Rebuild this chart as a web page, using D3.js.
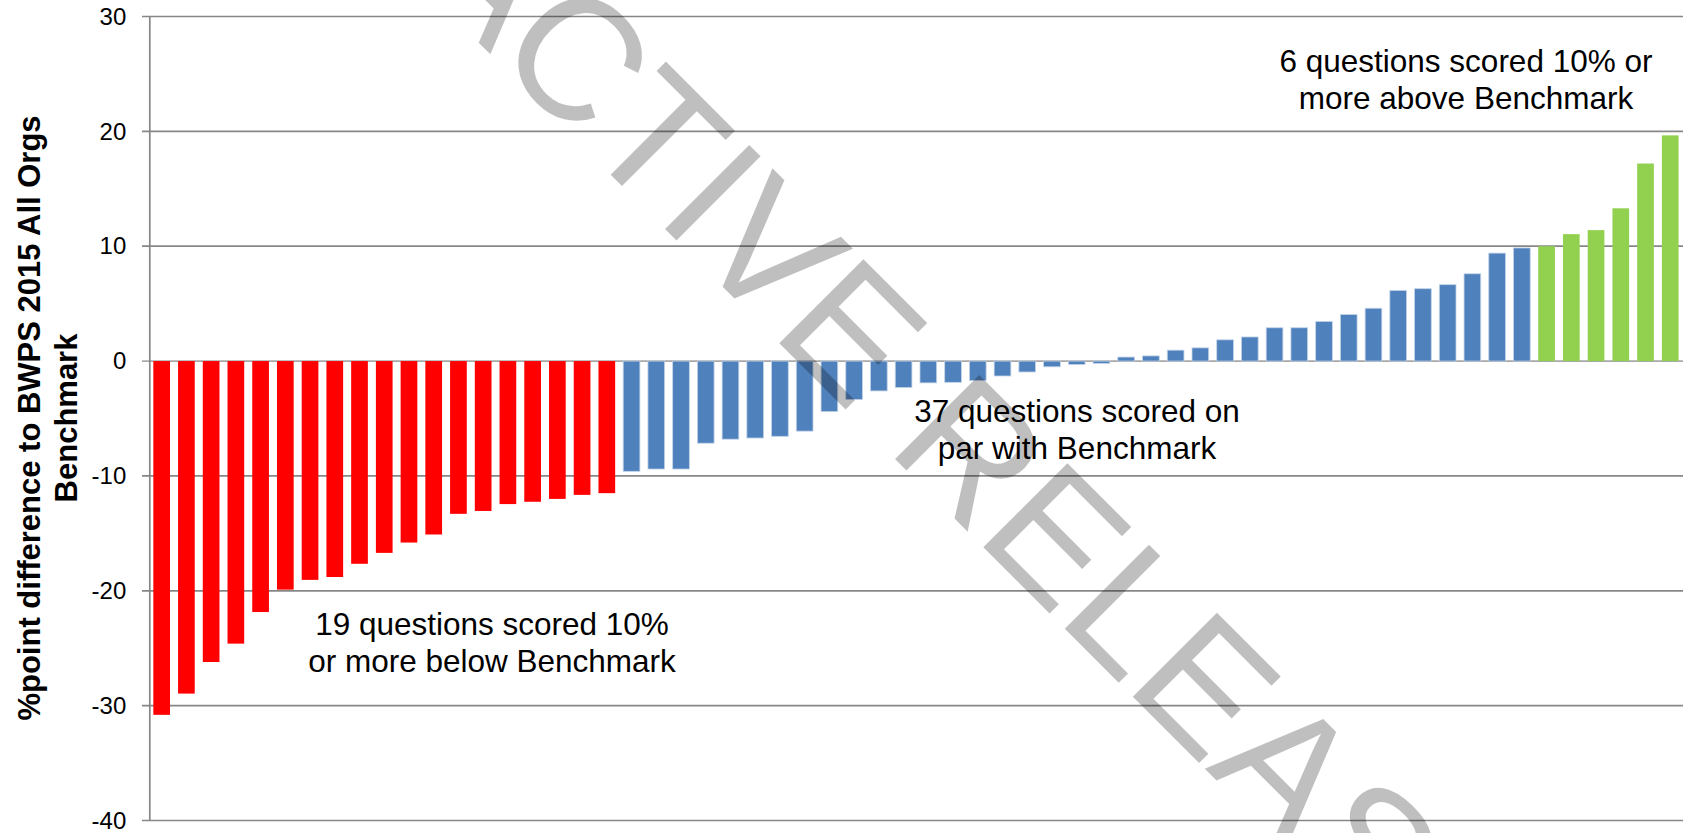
<!DOCTYPE html>
<html>
<head>
<meta charset="utf-8">
<script src="https://cdn.jsdelivr.net/npm/d3@7"></script>
<style>
  html, body { margin: 0; padding: 0; background: #ffffff; }
  svg { display: block; }
</style>
</head>
<body>
<svg id="chart" width="1688" height="833"></svg>
<script>
// ---- data ----
const belowValues = [-30.8, -28.95, -26.2, -24.6, -21.85, -19.9, -19.05, -18.8, -17.65, -16.7,
                     -15.8, -15.1, -13.3, -13.05, -12.45, -12.25, -12.0, -11.65, -11.5];
const onParValues = [-9.6, -9.4, -9.4, -7.15, -6.8, -6.7, -6.55, -6.1, -4.4, -3.35,
                     -2.6, -2.3, -1.9, -1.85, -1.7, -1.3, -0.95, -0.5, -0.3, -0.2,
                     0.35, 0.45, 0.95, 1.15, 1.85, 2.1, 2.9, 2.9, 3.45, 4.05,
                     4.6, 6.15, 6.3, 6.65, 7.6, 9.4, 9.85];
const aboveValues = [10.0, 11.05, 11.4, 13.3, 17.2, 19.65];
const groupNames = ["below", "onPar", "above"];
const groupColors = ["#FF0000", "#4F81BD", "#92D050"];
const yTicks = [-40, -30, -20, -10, 0, 10, 20, 30];
const yTitleLines = ["%point difference to BWPS 2015 All Orgs", "Benchmark"];
const notes = [
  { lines: ["19 questions scored 10%", "or more below Benchmark"], x: 492, y: 635 },
  { lines: ["37 questions scored on", "par with Benchmark"], x: 1077, y: 422 },
  { lines: ["6 questions scored 10% or", "more above Benchmark"], x: 1466, y: 72 }
];
const watermarkText = "PROACTIVE RELEASE";

// ---- build table ----
const data = [];
[belowValues, onParValues, aboveValues].forEach((arr, gi) => {
  arr.forEach(v => data.push({ i: data.length, v: v, g: groupNames[gi] }));
});
const color = d3.scaleOrdinal().domain(groupNames).range(groupColors);

const svg = d3.select("#chart");
const FONT = "'Liberation Sans', Arial, Helvetica, sans-serif";

const x = d3.scaleBand()
  .domain(data.map(d => d.i))
  .range([149.3, 1682.6])
  .paddingInner(0.325)
  .paddingOuter(0.1625);

const y = d3.scaleLinear().domain([-40, 30]).range([820.5, 16.5]);

// gridlines
svg.append("g").selectAll("line")
  .data(yTicks)
  .join("line")
  .attr("x1", 142)
  .attr("x2", 1683)
  .attr("y1", d => y(d))
  .attr("y2", d => y(d))
  .attr("stroke", d => d === 0 ? "#a8a8a8" : "#878787")
  .attr("stroke-width", 1.7);

// y axis
const yAxis = d3.axisLeft(y).tickValues(yTicks).tickFormat(d => String(d)).tickSize(0).tickPadding(23);
const ga = svg.append("g").attr("transform", "translate(149.3,0)").call(yAxis);
ga.select(".domain").attr("stroke", "#878787").attr("stroke-width", 1.7);
ga.selectAll("text")
  .attr("font-family", FONT)
  .attr("font-size", 24)
  .attr("fill", "#000");

// bars
svg.append("g").selectAll("rect")
  .data(data)
  .join("rect")
  .attr("x", d => x(d.i))
  .attr("width", x.bandwidth())
  .attr("y", d => y(Math.max(0, d.v)))
  .attr("height", d => Math.abs(y(d.v) - y(0)))
  .attr("fill", d => color(d.g))
  .attr("stroke", d => d.g === "onPar" ? "#c3d3e8" : "none")
  .attr("stroke-width", 0.8);

// y axis title
const yt = svg.append("text")
  .attr("transform", "translate(40,418) rotate(-90)")
  .attr("text-anchor", "middle")
  .attr("font-family", FONT)
  .attr("font-weight", "bold")
  .attr("font-size", 31)
  .attr("fill", "#000");
yTitleLines.forEach((t, k) => {
  yt.append("tspan").attr("x", 0).attr("y", k * 36.5).text(t);
});

// watermark
svg.append("text")
  .attr("transform", "translate(144,-292) rotate(45)")
  .attr("font-family", FONT)
  .attr("font-size", 173)
  .attr("fill", "#000")
  .attr("fill-opacity", 0.25)
  .text(watermarkText);

// annotations
notes.forEach(n => {
  const t = svg.append("text")
    .attr("text-anchor", "middle")
    .attr("font-family", FONT)
    .attr("font-size", 31.5)
    .attr("fill", "#000");
  n.lines.forEach((l, k) => {
    t.append("tspan").attr("x", n.x).attr("y", n.y + k * 37).text(l);
  });
});
</script>
</body>
</html>
